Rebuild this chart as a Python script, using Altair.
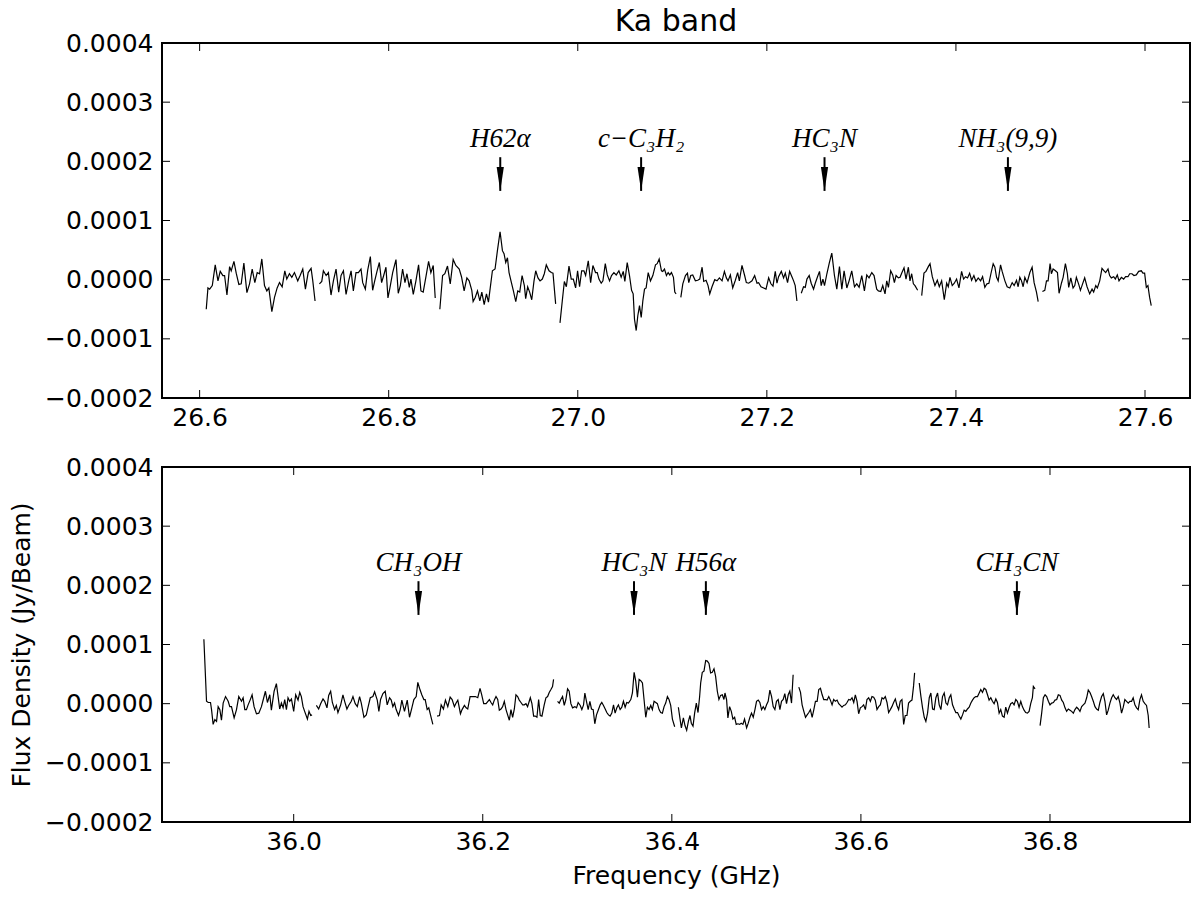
import altair as alt
import pandas as pd

# ---------------- data ----------------
# Frequencies in GHz, flux density in micro-Jy/beam; one list per spectral window
TOP_FREQ = [
    [26.6070, 26.6088, 26.6106, 26.6134, 26.6165, 26.6194, 26.6218, 26.6246, 26.6264, 26.6289, 26.6317, 26.6334, 26.6363, 26.6387, 26.6415, 26.6440, 26.6468, 26.6500, 26.6528, 26.6556, 26.6584, 26.6609, 26.6634, 26.6658, 26.6686, 26.6711, 26.6732, 26.6764, 26.6792, 26.6820, 26.6845, 26.6873, 26.6901, 26.6922, 26.6950, 26.6975, 26.7003, 26.7038, 26.7063, 26.7091, 26.7119, 26.7148, 26.7179, 26.7197, 26.7221],
    [26.7267, 26.7292, 26.7309, 26.7338, 26.7362, 26.7390, 26.7415, 26.7443, 26.7471, 26.7496, 26.7521, 26.7549, 26.7577, 26.7602, 26.7626, 26.7654, 26.7679, 26.7707, 26.7725, 26.7753, 26.7778, 26.7806, 26.7830, 26.7852, 26.7876, 26.7901, 26.7925, 26.7947, 26.7971, 26.7992, 26.8013, 26.8042, 26.8077, 26.8101, 26.8123, 26.8147, 26.8172, 26.8193, 26.8218, 26.8235, 26.8260, 26.8288, 26.8316, 26.8341, 26.8365, 26.8394, 26.8422, 26.8446, 26.8471, 26.8492],
    [26.8541, 26.8570, 26.8594, 26.8622, 26.8651, 26.8682, 26.8710, 26.8746, 26.8770, 26.8798, 26.8827, 26.8851, 26.8879, 26.8893, 26.8915, 26.8939, 26.8964, 26.8985, 26.9010, 26.9034, 26.9055, 26.9097, 26.9125, 26.9150, 26.9178, 26.9203, 26.9220, 26.9238, 26.9256, 26.9273, 26.9298, 26.9319, 26.9344, 26.9365, 26.9386, 26.9411, 26.9435, 26.9449, 26.9470, 26.9491, 26.9513, 26.9537, 26.9555, 26.9579, 26.9601, 26.9625, 26.9646, 26.9667, 26.9696, 26.9720, 26.9738, 26.9766],
    [26.9812, 26.9836, 26.9858, 26.9879, 26.9907, 26.9931, 26.9953, 26.9977, 26.9998, 27.0019, 27.0041, 27.0065, 27.0083, 27.0111, 27.0136, 27.0160, 27.0188, 27.0206, 27.0224, 27.0248, 27.0266, 27.0291, 27.0312, 27.0336, 27.0357, 27.0382, 27.0407, 27.0435, 27.0459, 27.0481, 27.0498, 27.0523, 27.0547, 27.0569, 27.0586, 27.0600, 27.0618, 27.0635, 27.0653, 27.0671, 27.0688, 27.0706, 27.0723, 27.0745, 27.0769, 27.0794, 27.0822, 27.0840, 27.0861, 27.0885, 27.0899, 27.0917, 27.0938, 27.0956, 27.0973, 27.0991, 27.1012, 27.1026, 27.1040],
    [27.1090, 27.1111, 27.1139, 27.1160, 27.1174, 27.1195, 27.1216, 27.1244, 27.1269, 27.1290, 27.1315, 27.1332, 27.1357, 27.1378, 27.1396, 27.1420, 27.1449, 27.1473, 27.1498, 27.1526, 27.1551, 27.1572, 27.1589, 27.1614, 27.1639, 27.1667, 27.1691, 27.1709, 27.1737, 27.1765, 27.1783, 27.1808, 27.1843, 27.1871, 27.1896, 27.1913, 27.1938, 27.1966, 27.1991, 27.2019, 27.2043, 27.2065, 27.2089, 27.2107, 27.2124, 27.2153, 27.2177, 27.2195, 27.2219, 27.2241, 27.2265, 27.2283, 27.2300, 27.2318],
    [27.2364, 27.2388, 27.2406, 27.2424, 27.2448, 27.2469, 27.2494, 27.2512, 27.2536, 27.2557, 27.2575, 27.2593, 27.2610, 27.2635, 27.2659, 27.2687, 27.2715, 27.2740, 27.2768, 27.2793, 27.2817, 27.2846, 27.2870, 27.2898, 27.2927, 27.2951, 27.2976, 27.3004, 27.3032, 27.3057, 27.3081, 27.3110, 27.3134, 27.3162, 27.3180, 27.3205, 27.3226, 27.3250, 27.3268, 27.3286, 27.3310, 27.3331, 27.3349, 27.3367, 27.3391, 27.3409, 27.3426, 27.3451, 27.3472, 27.3497, 27.3514, 27.3532, 27.3550, 27.3567, 27.3595],
    [27.3638, 27.3662, 27.3683, 27.3708, 27.3726, 27.3750, 27.3778, 27.3803, 27.3824, 27.3849, 27.3877, 27.3902, 27.3919, 27.3937, 27.3961, 27.3983, 27.4007, 27.4032, 27.4060, 27.4081, 27.4102, 27.4123, 27.4145, 27.4166, 27.4190, 27.4211, 27.4236, 27.4261, 27.4282, 27.4306, 27.4328, 27.4349, 27.4370, 27.4394, 27.4412, 27.4430, 27.4447, 27.4472, 27.4489, 27.4518, 27.4542, 27.4570, 27.4595, 27.4616, 27.4641, 27.4658, 27.4676, 27.4694, 27.4711, 27.4729, 27.4753, 27.4782, 27.4806, 27.4827, 27.4852, 27.4870],
    [27.4915, 27.4940, 27.4958, 27.4975, 27.4996, 27.5010, 27.5028, 27.5053, 27.5074, 27.5091, 27.5116, 27.5134, 27.5158, 27.5179, 27.5193, 27.5215, 27.5239, 27.5257, 27.5274, 27.5299, 27.5317, 27.5338, 27.5362, 27.5387, 27.5415, 27.5440, 27.5457, 27.5479, 27.5496, 27.5521, 27.5545, 27.5567, 27.5584, 27.5609, 27.5626, 27.5644, 27.5669, 27.5686, 27.5707, 27.5725, 27.5750, 27.5774, 27.5795, 27.5820, 27.5838, 27.5862, 27.5883, 27.5908, 27.5933, 27.5961, 27.5978, 27.5996, 27.6014, 27.6031, 27.6049, 27.6066],
]
TOP_FLUX = [
    [-50, -14, -16, -10, 25, -2, 14, 7, 7, -26, 22, 15, 31, 11, -8, -7, 28, -22, -7, 18, -5, 12, 10, 35, -10, -19, -14, -54, -30, -14, -5, -12, 15, 1, 10, 4, 12, -2, 7, 18, -16, 12, 19, -2, -36],
    [-7, -3, 15, 7, 12, -26, -2, 18, -21, 7, 15, -25, -2, 15, -19, 12, 12, 18, -5, -16, 16, 39, -18, -2, 14, 29, -5, 7, 21, -31, -14, 12, 34, -23, -10, 18, -5, 10, -13, 1, -25, -2, 25, -19, -21, 5, 31, 12, 24, -31],
    [-50, 7, 10, 23, -7, 34, 24, 18, 5, -19, 3, -2, -18, -37, -30, -19, -36, -21, -42, -24, -38, 15, 18, 49, 81, 49, 44, 29, 37, 12, -5, -19, -37, -19, -21, 7, -10, -32, -12, -21, -34, -2, 15, 3, -2, 1, 10, 25, 15, 12, 11, -41],
    [-73, -36, -3, -12, 23, 1, 1, -14, 15, -12, 15, 15, 7, 32, -5, 24, 12, 12, 1, -6, -2, 27, 8, -2, 7, 12, 8, 15, 4, 14, -3, 29, 7, -18, -24, -67, -86, -61, -44, -64, -36, -16, -14, 12, -2, 7, 25, 27, 35, 15, 14, 18, 7, 12, 8, 12, 4, -21, -24],
    [-30, -7, 7, 11, -5, 7, 8, -2, -1, 1, 21, -3, -1, -10, -24, -12, 0, -2, 3, -2, 14, 3, -2, 8, -14, -1, 12, -2, 24, 7, -5, -6, -2, 7, -6, -5, -12, -14, -16, 3, -7, -11, 14, -6, 5, 14, 3, 11, -5, 14, 5, -2, -10, -36],
    [-23, -12, -13, 1, 7, -6, -16, -6, 5, 14, -10, 1, -10, 10, 27, 45, 7, -16, 22, -16, 15, -14, -2, 15, -12, -7, -13, 7, -19, 8, 3, 12, 7, -16, -19, -20, -10, -24, -2, -13, 15, 8, -5, 7, 3, 4, 11, 20, 1, 21, -2, 10, -7, -10, -18],
    [-27, 11, 14, 22, 27, 5, -10, -1, -12, -2, -34, -6, -12, 4, -10, -6, 1, -14, 14, 1, 5, 3, 11, -1, 7, -3, 3, -2, 5, -13, -7, -6, 10, 27, 21, 4, -2, 25, 14, -2, -12, -14, -5, -10, -1, -12, 4, -2, -12, 4, -5, 12, 21, -5, -21, -37],
    [-20, -18, -2, -2, 27, 10, 18, 15, 12, -23, -6, 4, 27, 10, -13, 3, -14, -10, 4, -8, -18, -8, 3, -12, -24, -16, -21, -10, -14, -2, 19, 15, 12, 18, 7, 3, 5, 1, 8, -2, 4, 1, 5, 5, 10, 10, 7, 8, 14, 15, 11, 11, -13, -10, -30, -44],
]
BOT_FREQ = [
    [35.9050, 35.9078, 35.9096, 35.9120, 35.9131, 35.9148, 35.9166, 35.9184, 35.9201, 35.9219, 35.9236, 35.9254, 35.9279, 35.9307, 35.9324, 35.9342, 35.9370, 35.9395, 35.9419, 35.9448, 35.9465, 35.9483, 35.9500, 35.9518, 35.9539, 35.9560, 35.9581, 35.9606, 35.9631, 35.9659, 35.9683, 35.9701, 35.9722, 35.9747, 35.9764, 35.9793, 35.9817, 35.9835, 35.9852, 35.9870, 35.9888, 35.9905, 35.9923, 35.9940, 35.9958, 35.9976, 36.0000, 36.0021, 36.0046, 36.0064, 36.0081, 36.0099, 36.0116, 36.0145, 36.0162, 36.0180, 36.0194],
    [36.0240, 36.0264, 36.0285, 36.0310, 36.0328, 36.0352, 36.0370, 36.0391, 36.0409, 36.0433, 36.0451, 36.0468, 36.0497, 36.0521, 36.0539, 36.0563, 36.0581, 36.0609, 36.0627, 36.0651, 36.0673, 36.0697, 36.0715, 36.0743, 36.0768, 36.0785, 36.0810, 36.0838, 36.0856, 36.0884, 36.0901, 36.0919, 36.0944, 36.0968, 36.0989, 36.1014, 36.1032, 36.1049, 36.1067, 36.1084, 36.1109, 36.1127, 36.1144, 36.1172, 36.1201, 36.1225, 36.1250, 36.1271, 36.1296, 36.1313, 36.1331, 36.1355, 36.1377, 36.1391, 36.1412, 36.1429, 36.1447, 36.1472],
    [36.1517, 36.1542, 36.1560, 36.1584, 36.1605, 36.1630, 36.1655, 36.1676, 36.1700, 36.1718, 36.1736, 36.1764, 36.1781, 36.1806, 36.1824, 36.1841, 36.1866, 36.1894, 36.1922, 36.1947, 36.1971, 36.1989, 36.2010, 36.2035, 36.2070, 36.2087, 36.2105, 36.2122, 36.2140, 36.2158, 36.2175, 36.2193, 36.2210, 36.2228, 36.2246, 36.2263, 36.2281, 36.2298, 36.2316, 36.2334, 36.2351, 36.2369, 36.2386, 36.2404, 36.2422, 36.2439, 36.2457, 36.2474, 36.2503, 36.2520, 36.2538, 36.2555, 36.2573, 36.2591, 36.2608, 36.2626, 36.2650, 36.2668, 36.2686, 36.2703, 36.2721, 36.2738, 36.2749],
    [36.2791, 36.2809, 36.2826, 36.2844, 36.2862, 36.2879, 36.2897, 36.2914, 36.2932, 36.2950, 36.2974, 36.2992, 36.3009, 36.3031, 36.3048, 36.3066, 36.3080, 36.3097, 36.3115, 36.3133, 36.3150, 36.3168, 36.3185, 36.3203, 36.3224, 36.3242, 36.3259, 36.3277, 36.3295, 36.3312, 36.3330, 36.3347, 36.3365, 36.3383, 36.3400, 36.3418, 36.3435, 36.3453, 36.3471, 36.3488, 36.3506, 36.3523, 36.3541, 36.3566, 36.3583, 36.3601, 36.3618, 36.3636, 36.3654, 36.3671, 36.3689, 36.3706, 36.3724, 36.3742, 36.3759, 36.3777, 36.3794, 36.3812, 36.3830, 36.3847, 36.3865, 36.3882, 36.3900, 36.3918, 36.3935, 36.3953, 36.3970, 36.3988, 36.4006, 36.4030],
    [36.4069, 36.4087, 36.4101, 36.4122, 36.4139, 36.4157, 36.4175, 36.4192, 36.4206, 36.4224, 36.4241, 36.4259, 36.4277, 36.4294, 36.4305, 36.4322, 36.4340, 36.4358, 36.4375, 36.4393, 36.4410, 36.4428, 36.4446, 36.4463, 36.4481, 36.4498, 36.4516, 36.4534, 36.4551, 36.4562, 36.4579, 36.4593, 36.4611, 36.4629, 36.4646, 36.4664, 36.4681, 36.4699, 36.4717, 36.4734, 36.4752, 36.4769, 36.4791, 36.4808, 36.4826, 36.4843, 36.4861, 36.4879, 36.4896, 36.4914, 36.4931, 36.4949, 36.4967, 36.4984, 36.5002, 36.5019, 36.5037, 36.5055, 36.5072, 36.5090, 36.5107, 36.5125, 36.5143, 36.5160, 36.5178, 36.5195, 36.5213, 36.5231, 36.5248, 36.5266, 36.5283],
    [36.5343, 36.5361, 36.5378, 36.5396, 36.5414, 36.5431, 36.5449, 36.5466, 36.5484, 36.5502, 36.5519, 36.5537, 36.5554, 36.5572, 36.5590, 36.5607, 36.5625, 36.5642, 36.5660, 36.5677, 36.5695, 36.5712, 36.5730, 36.5748, 36.5765, 36.5783, 36.5800, 36.5818, 36.5836, 36.5853, 36.5871, 36.5888, 36.5906, 36.5924, 36.5941, 36.5959, 36.5976, 36.5994, 36.6012, 36.6029, 36.6047, 36.6064, 36.6082, 36.6100, 36.6117, 36.6135, 36.6152, 36.6170, 36.6188, 36.6205, 36.6223, 36.6240, 36.6258, 36.6276, 36.6293, 36.6311, 36.6328, 36.6346, 36.6364, 36.6381, 36.6399, 36.6416, 36.6434, 36.6452, 36.6469, 36.6487, 36.6504, 36.6522, 36.6540, 36.6557, 36.6568],
    [36.6617, 36.6635, 36.6652, 36.6670, 36.6687, 36.6705, 36.6723, 36.6740, 36.6758, 36.6775, 36.6793, 36.6811, 36.6828, 36.6846, 36.6863, 36.6881, 36.6899, 36.6916, 36.6934, 36.6951, 36.6969, 36.6987, 36.7004, 36.7022, 36.7039, 36.7057, 36.7075, 36.7092, 36.7110, 36.7127, 36.7145, 36.7163, 36.7180, 36.7198, 36.7215, 36.7233, 36.7251, 36.7268, 36.7286, 36.7303, 36.7321, 36.7339, 36.7356, 36.7374, 36.7391, 36.7409, 36.7427, 36.7444, 36.7462, 36.7479, 36.7497, 36.7515, 36.7532, 36.7550, 36.7567, 36.7585, 36.7603, 36.7620, 36.7638, 36.7655, 36.7673, 36.7691, 36.7708, 36.7726, 36.7743, 36.7761, 36.7779, 36.7796, 36.7814, 36.7824, 36.7842],
    [36.7895, 36.7912, 36.7930, 36.7948, 36.7965, 36.7983, 36.8000, 36.8018, 36.8036, 36.8053, 36.8071, 36.8088, 36.8106, 36.8124, 36.8141, 36.8159, 36.8176, 36.8194, 36.8212, 36.8229, 36.8247, 36.8264, 36.8282, 36.8300, 36.8317, 36.8335, 36.8352, 36.8370, 36.8388, 36.8405, 36.8423, 36.8440, 36.8458, 36.8476, 36.8493, 36.8511, 36.8528, 36.8546, 36.8564, 36.8581, 36.8599, 36.8616, 36.8634, 36.8652, 36.8669, 36.8687, 36.8704, 36.8722, 36.8740, 36.8757, 36.8775, 36.8792, 36.8810, 36.8828, 36.8845, 36.8863, 36.8880, 36.8898, 36.8916, 36.8933, 36.8951, 36.8968, 36.8986, 36.9004, 36.9021, 36.9039, 36.9049],
]
BOT_FLUX = [
    [109, 4, 2, 2, -10, -35, -27, -30, -5, -10, -28, 1, 12, 4, -5, -5, -24, -10, 12, 4, 10, -10, -10, -2, 6, 15, -5, -17, -16, -5, 10, 21, 2, 15, -11, 21, 34, 12, -9, 1, -7, 7, -10, 10, 4, 8, -13, 15, 6, 19, 12, -5, -13, -26, -13, -20, -19],
    [-3, -9, 0, 8, 4, -7, 14, 21, 2, -10, -3, -15, -2, 15, 4, -9, -3, 4, 12, 0, -5, 12, 1, -23, -19, -7, 10, 12, 20, 6, -13, 7, 17, 21, -2, 10, 6, -5, 1, -10, -20, -10, 6, -13, 6, -23, -7, 7, 12, 36, 26, 15, 7, 7, -10, -7, -19, -35],
    [-21, -20, -2, -9, 6, -5, 11, 7, -5, 1, 6, -17, -10, -3, -7, -9, 12, 12, 12, 10, 26, 15, 0, 0, 7, 2, -2, 6, 12, 7, -11, -9, -5, 4, -10, -19, -28, -10, -23, -9, 15, 12, 6, 2, -2, -2, 0, -5, 10, 0, -21, -21, -23, 7, -20, -21, -2, 10, 12, 19, 24, 29, 41],
    [4, 1, 7, 12, -3, 7, 25, 21, 0, -7, -5, -7, 2, -3, -10, -2, 18, 4, -10, 4, -9, -10, -34, -19, -10, -2, 2, -3, -9, -15, -19, -21, -16, -2, -16, -7, -2, -10, -6, 4, -6, 2, 1, 7, 18, 53, 38, 11, 41, 39, 35, 7, -23, -6, -10, -3, -10, 4, 2, 0, -10, -15, -16, -5, 1, 12, 7, -3, -26, -39],
    [-6, -26, -41, -24, -37, -45, -30, -20, -33, -38, -16, 1, -15, 12, 35, 53, 55, 73, 72, 68, 52, 53, 59, 46, 21, 7, 14, 15, 7, 18, 7, -24, -5, -13, -26, -23, -35, -34, -35, -33, -35, -26, -41, -33, -23, -16, -23, -10, 4, 6, 2, -10, -5, -10, -2, 4, 23, 12, -5, -10, 4, 7, -10, 4, 7, 17, 0, 15, 21, 1, 49],
    [28, 19, -2, -13, -23, -19, -15, -10, -23, -10, 4, 4, 24, 26, 15, 7, 7, 6, 12, 6, -2, 7, 4, 6, 0, -3, -6, -3, -2, 2, 7, 6, 10, 2, 15, 4, -17, -7, -5, -2, -10, 7, 10, 4, 12, 11, 6, -10, -5, -2, 10, 8, 12, 2, -15, -10, -5, 2, 8, -3, -10, 4, 7, -35, -20, -20, 1, 4, 6, 30, 52],
    [35, 12, -7, -23, -30, -16, 10, 18, -9, -10, 10, 18, -2, -10, 12, 18, 1, -2, 10, 15, -2, -9, -15, -15, -21, -26, -19, -11, -13, -9, -6, 1, 6, 10, 12, 12, 18, 24, 19, 26, 24, 15, 6, 10, 4, 0, 8, 2, -16, -10, -21, -23, -6, -16, -7, 0, 2, -2, 7, 4, -6, 4, -5, -11, -15, -16, -13, 0, 10, 29, 25],
    [-37, -16, 10, 15, 12, 4, -2, 1, 2, 6, 7, 15, 14, 6, 2, -7, -13, -9, -11, -13, -16, -10, -6, -9, -13, -5, -2, 1, 10, 23, 19, 12, 4, -5, -9, -11, 2, 12, 17, 4, -19, -11, 1, 10, 15, 10, 7, 12, 1, -16, -6, 7, 4, 1, 4, 4, 10, -2, -7, -10, 7, 15, 4, 0, -3, -20, -41],
]

TOP_LINES = ["H62α", "c−C₃H₂", "HC₃N", "NH₃(9,9)"]
TOP_LINE_FREQ = [26.918, 27.067, 27.261, 27.455]
BOT_LINES = ["CH₃OH", "HC₃N", "H56α", "CH₃CN"]
BOT_LINE_FREQ = [36.132, 36.360, 36.436, 36.765]

LABEL_Y = 0.000225   # annotation text position (Jy/beam)
ARROW_TOP = 0.000207  # arrow tail
ARROW_TIP = 0.00015   # arrow head

TOP_XTICKS = [26.6, 26.8, 27.0, 27.2, 27.4, 27.6]
BOT_XTICKS = [36.0, 36.2, 36.4, 36.6, 36.8]
YTICKS = [-0.0002, -0.0001, 0.0, 0.0001, 0.0002, 0.0003, 0.0004]
TOP_XDOMAIN = [26.5602, 27.6476]
BOT_XDOMAIN = [35.8607, 36.9481]
YDOMAIN = [-0.0002, 0.0004]

# ---------------- chart ----------------
W, H = 1028, 355
TICK = 8
FONT = "DejaVu Sans"
ARROW_SHAPE = "M-0.3,-1L0.3,-1L0,1Z"


def panel(freqs, fluxes, names, line_freqs, xticks, xdomain, xtitle=None, ytitle=None):
    rows = []
    for s, (fs, vs) in enumerate(zip(freqs, fluxes)):
        for f, v in zip(fs, vs):
            rows.append({"freq": f, "flux": v * 1e-6, "seg": s})
    spec = pd.DataFrame(rows)

    xs = alt.Scale(domain=xdomain, nice=False, zero=False)
    ys = alt.Scale(domain=YDOMAIN, nice=False, zero=False)

    xaxis = alt.Axis(values=xticks, format=".1f", labelPadding=7, tickSize=0,
                     ticks=False, domain=False, grid=False,
                     title=xtitle, titlePadding=9)
    yaxis = alt.Axis(values=YTICKS, format=".4f", labelPadding=9, tickSize=0,
                     ticks=False, domain=False, grid=False,
                     title=ytitle, titlePadding=10)

    def X(field):
        return alt.X(field, scale=xs, axis=xaxis)

    def Y(field):
        return alt.Y(field, scale=ys, axis=yaxis)

    line = alt.Chart(spec).mark_line(color="black", strokeWidth=1.2).encode(
        x=X("freq:Q"), y=Y("flux:Q"), detail="seg:N",
    )

    xt = pd.DataFrame({"t": xticks})
    yt = pd.DataFrame({"t": YTICKS})
    rule = dict(color="black", strokeWidth=1)
    xtick_top = alt.Chart(xt).mark_rule(**rule).encode(
        x=X("t:Q"), y=alt.value(0), y2=alt.value(TICK))
    xtick_bot = alt.Chart(xt).mark_rule(**rule).encode(
        x=X("t:Q"), y=alt.value(H), y2=alt.value(H - TICK))
    ytick_l = alt.Chart(yt).mark_rule(**rule).encode(
        y=Y("t:Q"), x=alt.value(0), x2=alt.value(TICK))
    ytick_r = alt.Chart(yt).mark_rule(**rule).encode(
        y=Y("t:Q"), x=alt.value(W - TICK), x2=alt.value(W))

    ann = pd.DataFrame({"name": names, "f": line_freqs,
                        "ytext": LABEL_Y, "ytop": ARROW_TOP, "ytip": ARROW_TIP})
    shaft = alt.Chart(ann).mark_rule(color="black", strokeWidth=2).encode(
        x=X("f:Q"), y=Y("ytop:Q"), y2="ytip:Q",
    )
    head = alt.Chart(ann).mark_point(shape=ARROW_SHAPE, size=576, filled=True,
                                     color="black", opacity=1, yOffset=-12).encode(
        x=X("f:Q"), y=Y("ytip:Q"),
    )
    text = alt.Chart(ann).mark_text(font="Liberation Serif", fontStyle="italic",
                                    fontSize=27, baseline="alphabetic",
                                    align="center", color="black").encode(
        x=X("f:Q"), y=Y("ytext:Q"), text="name:N",
    )
    return alt.layer(line, xtick_top, xtick_bot, ytick_l, ytick_r, shaft, head, text)


top = panel(TOP_FREQ, TOP_FLUX, TOP_LINES, TOP_LINE_FREQ, TOP_XTICKS, TOP_XDOMAIN).properties(
    width=W, height=H,
    title=alt.TitleParams("Ka band", fontSize=30, font=FONT, fontWeight="normal",
                          anchor="middle", frame="group", offset=-6, color="black"),
)
bottom = panel(BOT_FREQ, BOT_FLUX, BOT_LINES, BOT_LINE_FREQ, BOT_XTICKS, BOT_XDOMAIN,
               xtitle="Frequency (GHz)", ytitle="Flux Density (Jy/Beam)").properties(
    width=W, height=H)

chart = alt.vconcat(top, bottom, spacing=23).properties(
    padding={"left": 8, "top": 6, "right": 8, "bottom": 8},
    background="white",
).configure_view(
    stroke="black", strokeWidth=2,
).configure_axis(
    labelFont=FONT, labelFontSize=25, labelColor="black",
    titleFont=FONT, titleFontSize=25, titleFontWeight="normal", titleColor="black",
)

chart.save("out.html", embed_options={"renderer": "svg", "actions": False})
